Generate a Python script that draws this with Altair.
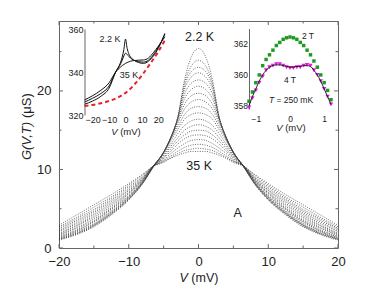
import altair as alt
import pandas as pd

FONT = "Liberation Sans"
INK = "#222222"
FRAME = "#666666"

# ---------------- main panel data: G(V,T) in uS ----------------
V_HALF = [0, 1, 2, 3, 4, 5, 6.5, 8, 10, 12.5, 15, 17.5, 20]   # |V| in mV (curves are symmetric)
G_01 = [25.4, 24.4, 21.4, 16.5, 14.0, 12.2, 10.3, 8.2, 6.1, 4.2, 2.7, 1.7, 1.0]   # 2.2 K
G_02 = [23.9, 23.2, 21.0, 16.5, 14.0, 12.2, 10.3, 8.2, 6.2, 4.3, 2.8, 1.8, 1.1]
G_03 = [23.0, 22.5, 20.6, 16.5, 14.0, 12.2, 10.3, 8.3, 6.2, 4.4, 2.9, 1.8, 1.1]
G_04 = [22.3, 21.8, 20.2, 16.5, 14.0, 12.2, 10.3, 8.3, 6.3, 4.4, 2.9, 1.9, 1.2]
G_05 = [21.4, 21.0, 19.6, 16.4, 14.0, 12.2, 10.3, 8.3, 6.4, 4.5, 3.0, 2.0, 1.2]
G_06 = [20.6, 20.2, 19.0, 16.3, 14.0, 12.2, 10.4, 8.4, 6.4, 4.6, 3.1, 2.1, 1.3]
G_07 = [19.7, 19.4, 18.3, 16.1, 13.9, 12.2, 10.4, 8.4, 6.5, 4.7, 3.3, 2.2, 1.4]
G_08 = [18.9, 18.6, 17.7, 15.8, 13.9, 12.1, 10.4, 8.5, 6.6, 4.9, 3.4, 2.3, 1.5]
G_09 = [18.0, 17.8, 17.0, 15.4, 13.8, 12.1, 10.4, 8.5, 6.7, 5.0, 3.5, 2.5, 1.6]
G_10 = [17.2, 17.0, 16.4, 15.0, 13.6, 12.0, 10.4, 8.6, 6.9, 5.1, 3.7, 2.6, 1.7]
G_11 = [16.4, 16.2, 15.6, 14.5, 13.2, 11.8, 10.4, 8.7, 7.0, 5.3, 3.9, 2.8, 1.8]
G_12 = [15.7, 15.5, 15.0, 14.0, 12.9, 11.7, 10.4, 8.7, 7.1, 5.5, 4.1, 2.9, 1.9]
G_13 = [15.0, 14.9, 14.4, 13.6, 12.6, 11.5, 10.4, 8.8, 7.3, 5.7, 4.3, 3.1, 2.1]
G_14 = [14.4, 14.3, 13.9, 13.2, 12.3, 11.4, 10.4, 8.9, 7.4, 5.9, 4.5, 3.3, 2.2]
G_15 = [13.8, 13.7, 13.3, 12.7, 12.0, 11.2, 10.4, 9.0, 7.6, 6.1, 4.7, 3.5, 2.4]
G_16 = [13.2, 13.1, 12.8, 12.3, 11.7, 11.1, 10.4, 9.1, 7.8, 6.3, 4.9, 3.7, 2.5]
G_17 = [12.7, 12.6, 12.4, 12.0, 11.5, 11.0, 10.4, 9.3, 8.0, 6.5, 5.2, 3.9, 2.7]
G_18 = [12.3, 12.3, 12.1, 11.8, 11.4, 10.9, 10.4, 9.4, 8.2, 6.8, 5.5, 4.2, 2.9]  # 35 K
CURVES = [G_01, G_02, G_03, G_04, G_05, G_06, G_07, G_08, G_09,
          G_10, G_11, G_12, G_13, G_14, G_15, G_16, G_17, G_18]

MAIN_X_MAJOR = [-20, -10, 0, 10, 20]
MAIN_X_MINOR = [-15, -5, 5, 15]
MAIN_Y_MAJOR = [0, 10, 20]
MAIN_Y_MINOR = [5, 15, 25]

# ---------------- left inset (larger bias range) ----------------
IN1_V = [-25, -20, -15, -10, -6, -3, -2, -1, 0, 1, 2, 3, 5, 8, 11, 14, 17, 20, 24]
IN1_2K = [325.0, 326.5, 328.7, 332.5, 340.0, 344.5, 347.0, 350.5, 355.3, 351.0, 348.5, 347.0,
          345.6, 344.4, 344.0, 345.0, 347.5, 351.0, 358.0]
IN1_MID = [326.0, 327.8, 330.0, 333.5, 340.0, 343.8, 345.5, 347.5, 348.7, 348.2, 347.3, 346.5,
           345.5, 344.8, 344.6, 345.5, 348.0, 351.5, 357.5]
IN1_35K = [327.0, 329.0, 331.5, 335.0, 340.0, 342.3, 343.0, 343.5, 344.0, 344.4, 344.7, 345.0,
           345.3, 345.5, 345.6, 346.5, 349.0, 352.0, 356.4]
IN1_RED_V = [-25, -20, -15, -10, -5, 0, 5, 10, 15, 20, 24]
IN1_RED_G = [324.2, 324.7, 325.5, 326.5, 328.0, 330.3, 333.8, 338.5, 343.8, 349.5, 354.8]

# ---------------- right inset (T = 250 mK, fields) ----------------
IN2_V = [-1.2, -1.1, -1.0, -0.9, -0.8, -0.7, -0.6, -0.5, -0.4, -0.3, -0.2, -0.1, 0.0,
         0.1, 0.2, 0.3, 0.4, 0.5, 0.6, 0.7, 0.8, 0.9, 1.0, 1.1, 1.2]
IN2_2T = [358.3, 358.9, 359.5, 360.0, 360.6, 361.0, 361.3, 361.6, 361.9, 362.1, 362.3, 362.4, 362.45,
          362.4, 362.3, 362.1, 361.9, 361.6, 361.3, 360.9, 360.5, 360.0, 359.5, 359.0, 358.4]
IN2_4T = [357.9, 358.5, 359.0, 359.5, 359.9, 360.3, 360.5, 360.6, 360.7, 360.7, 360.6, 360.5, 360.45,
          360.45, 360.5, 360.5, 360.6, 360.65, 360.6, 360.3, 360.0, 359.6, 359.1, 358.6, 358.1]
IN2_LINE = [358.0, 358.6, 359.1, 359.6, 360.0, 360.3, 360.5, 360.6, 360.65, 360.65, 360.6, 360.55, 360.5,
            360.5, 360.55, 360.55, 360.6, 360.6, 360.55, 360.3, 360.0, 359.6, 359.1, 358.6, 358.1]

# ---------------- tables ----------------
rows = []
for i, g in enumerate(CURVES):
    for v, val in zip(V_HALF, g):
        rows.append({"curve": i, "V": v, "G": val})
        if v > 0:
            rows.append({"curve": i, "V": -v, "G": val})
main_df = pd.DataFrame(rows)

in1_rows = []
for name, arr in [("2.2 K", IN1_2K), ("mid", IN1_MID), ("35 K", IN1_35K)]:
    for v, g in zip(IN1_V, arr):
        in1_rows.append({"curve": name, "V": v, "G": g})
in1_df = pd.DataFrame(in1_rows)
in1_red = pd.DataFrame({"V": IN1_RED_V, "G": IN1_RED_G})

in2_df = pd.DataFrame({"V": IN2_V, "g2": IN2_2T, "g4": IN2_4T, "gl": IN2_LINE})

W, H = 279, 227
ONE = alt.Data(values=[{}])

MAIN_XS = alt.Scale(domain=[-20, 20], nice=False, zero=False)
MAIN_YS = alt.Scale(domain=[0, 28.9], nice=False, zero=False)


def txt(text, x, y, size=12, style="normal", align="center", angle=0):
    kw = dict(text=text, font=FONT, fontSize=size, fontStyle=style, color=INK,
              align=align, baseline="middle")
    if angle:
        kw["angle"] = angle
    return alt.Chart(ONE).mark_text(**kw).encode(x=alt.value(x), y=alt.value(y))


def dtxt(text, v, g, size=12, style="normal"):
    return alt.Chart(ONE).mark_text(text=text, font=FONT, fontSize=size, fontStyle=style,
                                    color=INK, baseline="middle").encode(
        x=alt.datum(v), y=alt.datum(g))


def xticks(values, length):
    df = pd.DataFrame({"V": values})
    bottom = alt.Chart(df).mark_rule(color=FRAME, strokeWidth=1).encode(
        x=alt.X("V:Q", scale=MAIN_XS), y=alt.value(H), y2=alt.value(H - length))
    top = alt.Chart(df).mark_rule(color=FRAME, strokeWidth=1).encode(
        x=alt.X("V:Q", scale=MAIN_XS), y=alt.value(0), y2=alt.value(length))
    return [bottom, top]


def yticks(values, length):
    df = pd.DataFrame({"G": values})
    left = alt.Chart(df).mark_rule(color=FRAME, strokeWidth=1).encode(
        y=alt.Y("G:Q", scale=MAIN_YS), x=alt.value(0), x2=alt.value(length))
    right = alt.Chart(df).mark_rule(color=FRAME, strokeWidth=1).encode(
        y=alt.Y("G:Q", scale=MAIN_YS), x=alt.value(W), x2=alt.value(W - length))
    return [left, right]


# ---------------- main panel ----------------
main_lines = alt.Chart(main_df).mark_line(
    strokeDash=[1, 1.4], strokeWidth=0.75, color="#3a3a3a", interpolate="monotone"
).encode(
    x=alt.X("V:Q", scale=MAIN_XS,
            axis=alt.Axis(values=MAIN_X_MAJOR, ticks=False, domain=False, grid=False,
                          labelFlush=False, labelPadding=7, labelFontSize=13, labelFont=FONT,
                          labelColor=INK, title=None)),
    y=alt.Y("G:Q", scale=MAIN_YS,
            axis=alt.Axis(values=MAIN_Y_MAJOR, ticks=False, domain=False, grid=False,
                          labelPadding=8, labelFontSize=13, labelFont=FONT, labelColor=INK,
                          title=None)),
    detail="curve:N",
)

main_layer = alt.layer(
    main_lines,
    *xticks(MAIN_X_MAJOR, 4), *xticks(MAIN_X_MINOR, 2.5),
    *yticks(MAIN_Y_MAJOR, 4), *yticks(MAIN_Y_MINOR, 2.5),
    dtxt("2.2 K", 0.15, 26.9, 12.5),
    dtxt("35 K", 0.1, 10.5, 12.5),
    dtxt("A", 5.6, 4.45, 12.5),
)

# ---------------- left inset ----------------
IN1_XS = alt.Scale(domain=[-25, 25], range=[25.5, 107.5], nice=False, zero=False)
IN1_YS = alt.Scale(domain=[320, 360], range=[94, 8], nice=False, zero=False)

in1_lines = alt.Chart(in1_df).mark_line(color="#111111", strokeWidth=1.0, interpolate="monotone").encode(
    x=alt.X("V:Q", scale=IN1_XS,
            axis=alt.Axis(orient="bottom", offset=-(H - 94), values=[-20, -10, 0, 10, 20],
                          ticks=False, domain=False, grid=False, labelFlush=False,
                          labelPadding=0, labelFontSize=9, labelFont=FONT, labelColor=INK,
                          format="d", title=None)),
    y=alt.Y("G:Q", scale=IN1_YS,
            axis=alt.Axis(orient="left", offset=-25.5, values=[320, 340, 360], ticks=False,
                          domain=True, domainColor=FRAME, grid=False, labelPadding=1.5,
                          labelFontSize=9, labelFont=FONT, labelColor=INK, title=None)),
    detail="curve:N",
)
in1_red_line = alt.Chart(in1_red).mark_line(
    color="#e8202a", strokeWidth=2, strokeDash=[4, 3], interpolate="monotone"
).encode(x=alt.X("V:Q", scale=IN1_XS), y=alt.Y("G:Q", scale=IN1_YS))

inset1 = alt.layer(
    in1_red_line,
    in1_lines,
    txt("2.2 K", 51, 18, 9),
    txt("35 K", 70, 54, 9),
    txt("V", 58.6, 111, 9.5, "italic", "right"),
    txt("(mV)", 61.2, 111, 9.5, "normal", "left"),
)

# ---------------- right inset ----------------
IN2_XS = alt.Scale(domain=[-1.2, 1.2], range=[190, 272], nice=False, zero=False)
IN2_YS = alt.Scale(domain=[357.8, 363], range=[88, 7.5], nice=False, zero=False)

in2_green = alt.Chart(in2_df).mark_square(size=12, color="#1f9a24", opacity=1).encode(
    x=alt.X("V:Q", scale=IN2_XS,
            axis=alt.Axis(orient="bottom", offset=-(H - 88), values=[-1, 0, 1], ticks=False,
                          domain=False, grid=False, labelFlush=False, labelPadding=5,
                          labelFontSize=8.5, labelFont=FONT, labelColor=INK, format="d",
                          title=None)),
    y=alt.Y("g2:Q", scale=IN2_YS,
            axis=alt.Axis(orient="left", offset=-190, values=[358, 360, 362], ticks=False,
                          domain=True, domainColor=FRAME, grid=False, labelPadding=1.5,
                          labelFontSize=8.5, labelFont=FONT, labelColor=INK, title=None)),
)
in2_mag = alt.Chart(in2_df).mark_point(shape="triangle-down", filled=True, size=20,
                                        color="#e01ce0", opacity=1).encode(
    x=alt.X("V:Q", scale=IN2_XS), y=alt.Y("g4:Q", scale=IN2_YS))
in2_line = alt.Chart(in2_df).mark_line(color="#111111", strokeWidth=0.9,
                                       interpolate="monotone").encode(
    x=alt.X("V:Q", scale=IN2_XS), y=alt.Y("gl:Q", scale=IN2_YS))

inset2 = alt.layer(
    in2_green,
    in2_mag,
    in2_line,
    txt("2 T", 249, 15, 8.5),
    txt("4 T", 231, 59, 8.5),
    txt("T", 210, 79, 8.5, "italic", "left"),
    txt("= 250 mK", 217.5, 79, 8.5, "normal", "left"),
    txt("V", 223.6, 107, 9.5, "italic", "right"),
    txt("(mV)", 226.2, 107, 9.5, "normal", "left"),
)

# ---------------- axis titles ----------------
titles = alt.layer(
    txt("V", 128.8, 257, 12.5, "italic", "right"),
    txt("(mV)", 132.3, 257, 12.5, "normal", "left"),
    txt("G(V,T)", -32, 139, 13, "italic", "left", 270),
    txt("(μS)", -32, 97, 13, "normal", "left", 270),
)

chart = alt.layer(main_layer, inset1, inset2, titles).resolve_scale(
    x="independent", y="independent"
).properties(
    width=W, height=H, autosize="none",
    padding={"left": 51, "top": 13, "right": 22, "bottom": 50},
).configure_view(stroke=FRAME, strokeWidth=1)

chart.save("out.html", embed_options={"renderer": "svg", "actions": False})
